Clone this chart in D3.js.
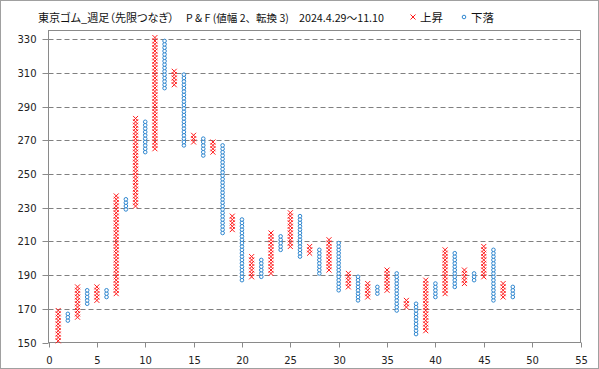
<!DOCTYPE html>
<html><head><meta charset="utf-8">
<script src="https://cdn.jsdelivr.net/npm/d3@7/dist/d3.min.js"></script>
<style>
body{margin:0;background:#fff;}
svg{display:block;}
.jp{font-feature-settings:"palt";}
</style></head>
<body>
<svg id="c" width="599" height="369"></svg>
<script>
// P&F columns (1..48), alternating X (rise) / O (fall), box size 2
const colTypes = ["X","O","X","O","X","O","X","O","X","O","X","O","X","O","X","O","X","O","X","O","X","O","X","O",
                  "X","O","X","O","X","O","X","O","X","O","X","O","X","O","X","O","X","O","X","O","X","O","X","O"];
const colLows  = [151,163,165,173,175,177,179,229,231,263,265,301,303,267,269,261,263,215,217,187,189,189,191,205,
                  207,201,203,191,193,181,183,175,177,179,181,169,171,155,157,177,179,183,185,187,189,175,177,177];
const colHighs = [169,167,183,181,183,181,237,235,283,281,331,329,311,309,273,271,269,267,225,223,201,199,215,213,
                  227,225,207,205,211,209,191,189,185,183,193,191,175,173,187,185,205,203,193,191,207,205,185,183];
const boxSize = 2;
const yTicks = [150,170,190,210,230,250,270,290,310,330];
const xTicks = [0,5,10,15,20,25,30,35,40,45,50,55];
const titleMain = "東京ゴム_週足（先限つなぎ）";
const titleSub = "P & F (値幅 2、転換 3)";
const titleDate = "2024.4.29～11.10";
const legendUp = "上昇";
const legendDown = "下落";

const svg = d3.select("#c");
const L = 48.5, R = 580.5, T = 30.5, B = 342.5;
const x = d3.scaleLinear().domain([0,55]).range([L,R]);
const y = d3.scaleLinear().domain([150,335.2]).range([B,T]);
const red = "#ff1a1a", blue = "#2e86cf", gray = "#8a8a8a";

// outer border
svg.append("rect").attr("x",0.5).attr("y",0.5).attr("width",598).attr("height",368)
  .attr("fill","#fff").attr("stroke","#a0a0a0");

// gridlines
svg.append("g").selectAll("line").data(yTicks.filter(d=>d>150)).join("line")
  .attr("x1",L).attr("x2",R).attr("y1",d=>Math.round(y(d))+0.5).attr("y2",d=>Math.round(y(d))+0.5)
  .attr("stroke","#808080").attr("stroke-width",1).attr("stroke-dasharray","5,3");

// axes
const yAxis = svg.append("g").attr("transform",`translate(${L},0)`)
  .call(d3.axisLeft(y).tickValues(yTicks).tickSize(6).tickPadding(6).tickFormat(d3.format("d")));
yAxis.select(".domain").remove();
yAxis.selectAll(".tick line").attr("stroke",gray);
yAxis.selectAll(".tick").attr("transform",d=>`translate(0,${Math.round(y(d))+0.5})`);
yAxis.selectAll("text").attr("fill","#222").style("font-family","DejaVu Sans, Verdana, sans-serif").style("font-size","10px");

const xAxis = svg.append("g").attr("transform",`translate(0,${B})`)
  .call(d3.axisBottom(x).tickValues(xTicks).tickSize(5).tickPadding(9).tickFormat(d3.format("d")));
xAxis.select(".domain").remove();
xAxis.selectAll(".tick line").attr("stroke",gray);
xAxis.selectAll(".tick").attr("transform",d=>`translate(${Math.round(x(d))+0.5},0)`);
xAxis.selectAll("text").attr("fill","#222").style("font-family","DejaVu Sans, Verdana, sans-serif").style("font-size","10px");

// plot frame
svg.append("rect").attr("x",L).attr("y",T).attr("width",R-L).attr("height",B-T)
  .attr("fill","none").attr("stroke",gray).attr("stroke-width",1);

// expand columns into boxes
const boxes = [];
colTypes.forEach((t,i)=>{
  for(let v=colLows[i]; v<=colHighs[i]; v+=boxSize) boxes.push({col:i+1,type:t,v});
});

const xs = boxes.filter(b=>b.type==="X");
const os = boxes.filter(b=>b.type==="O");
const h = 2.5;
svg.append("g").selectAll("path").data(xs).join("path")
  .attr("d",b=>{const cx=x(b.col), cy=y(b.v);
    return `M${cx-h},${cy-h}L${cx+h},${cy+h}M${cx-h},${cy+h}L${cx+h},${cy-h}`;})
  .attr("stroke",red).attr("stroke-width",1).attr("fill","none");
svg.append("g").selectAll("circle").data(os).join("circle")
  .attr("cx",b=>x(b.col)).attr("cy",b=>y(b.v)).attr("r",1.8)
  .attr("fill","#fff").attr("stroke",blue).attr("stroke-width",1);

// title: fit each piece to the width it takes in the reference
const jp = "'Noto Sans CJK JP', sans-serif";
function fitText(sel, base, width){
  sel.style("font-size", base+"px");
  const w = sel.node().getComputedTextLength();
  if (w > 0) sel.style("font-size", Math.min(base*1.25, base*width/w).toFixed(2)+"px");
  return sel;
}
fitText(svg.append("text").attr("class","jp").attr("x",38).attr("y",21.5).text(titleMain)
  .style("font-family",jp).attr("fill","#111"), 12, 136);
fitText(svg.append("text").attr("x",186).attr("y",21.5).text(titleSub)
  .style("font-family",jp).attr("fill","#111"), 10.5, 103);
fitText(svg.append("text").attr("x",299).attr("y",21.5).text(titleDate)
  .style("font-family",jp).attr("fill","#111"), 10.5, 85);

// legend
const lx1 = 413, lx2 = 464, ly = 17;
svg.append("path").attr("d",`M${lx1-h},${ly-h}L${lx1+h},${ly+h}M${lx1-h},${ly+h}L${lx1+h},${ly-h}`)
  .attr("stroke",red).attr("stroke-width",1);
svg.append("text").attr("x",420).attr("y",21.5).text(legendUp)
  .style("font-family",jp).style("font-size","11.5px").attr("fill","#111");
svg.append("circle").attr("cx",lx2).attr("cy",ly).attr("r",1.8).attr("fill","#fff").attr("stroke",blue);
svg.append("text").attr("x",471).attr("y",21.5).text(legendDown)
  .style("font-family",jp).style("font-size","11.5px").attr("fill","#111");
</script>
</body></html>
